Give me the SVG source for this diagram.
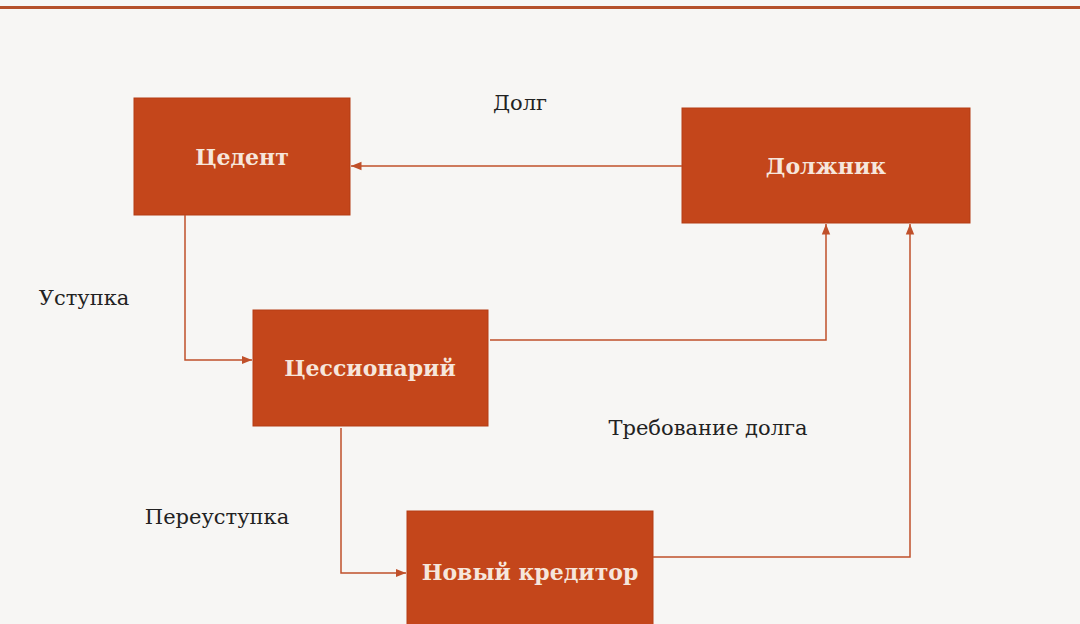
<svg xmlns="http://www.w3.org/2000/svg" width="1080" height="624" viewBox="0 0 1080 624">
<defs>
<marker id="a" viewBox="0 0 10 10" refX="10" refY="5" markerWidth="7" markerHeight="7" orient="auto-start-reverse"><path d="M0,1 L10,5 L0,9 z" fill="#c0502a"/></marker>
<style>
.box{fill:#c4461b;stroke:#b53d14;stroke-width:1}
.bt{font-family:"DejaVu Serif",serif;font-weight:bold;font-size:22px;fill:#f6e6dc;text-anchor:middle;dominant-baseline:central}
.lb{font-family:"DejaVu Serif",serif;font-size:21px;fill:#222;text-anchor:middle;dominant-baseline:central}
.c{fill:none;stroke:#c0502a;stroke-width:1.5;marker-end:url(#a)}
</style>
</defs>
<rect width="1080" height="624" fill="#f7f6f4"/>
<rect x="0" y="6" width="1080" height="3" fill="#b5502a"/>
<g id="n1"><rect class="box" x="134" y="98" width="216" height="117"/><text class="bt" x="242" y="157">Цедент</text></g>
<g id="n2"><rect class="box" x="682" y="108" width="288" height="115"/><text class="bt" x="826" y="166">Должник</text></g>
<g id="n3"><rect class="box" x="253" y="310" width="235" height="116"/><text class="bt" x="370" y="368">Цессионарий</text></g>
<g id="n4"><rect class="box" x="407" y="511" width="246" height="120"/><text class="bt" x="530" y="572">Новый кредитор</text></g>
<g id="connectors">
<path class="c" d="M682,166 H351"/>
<path class="c" d="M185,215 V360 H252"/>
<path class="c" d="M490,340 H826 V224"/>
<path class="c" d="M341,428 V573 H406"/>
<path class="c" d="M653,557 H910 V224"/>
</g>
<text class="lb" x="520" y="103">Долг</text>
<text class="lb" x="84" y="298">Уступка</text>
<text class="lb" x="708" y="428">Требование долга</text>
<text class="lb" x="217" y="517">Переуступка</text>
</svg>
